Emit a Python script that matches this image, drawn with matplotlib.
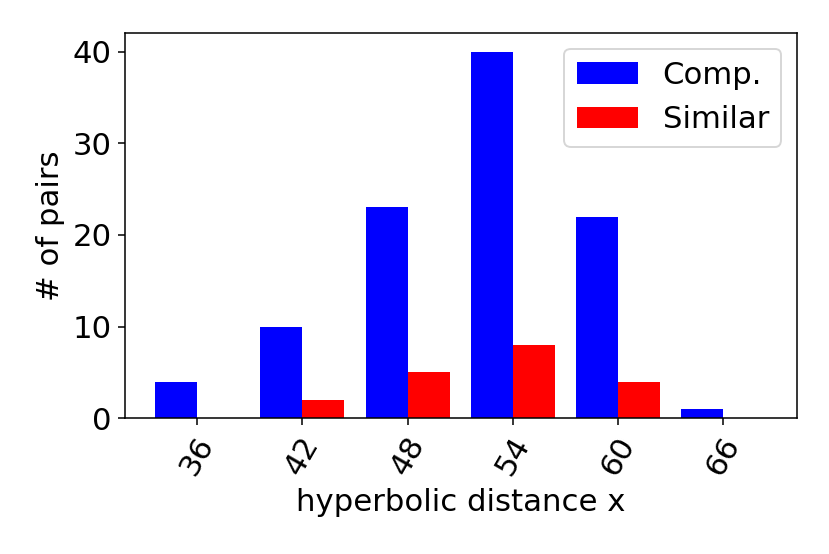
import numpy as np
import matplotlib
matplotlib.use("Agg")
import matplotlib.pyplot as plt

distances = [36, 42, 48, 54, 60, 66]
comp_counts = [4, 10, 23, 40, 22, 1]
similar_counts = [0, 2, 5, 8, 4, 0]

plt.rcParams['font.size'] = 16

fig, ax = plt.subplots(figsize=(6, 4.005), dpi=138.33)
x = np.array(distances, dtype=float)
w = 2.4
ax.bar(x - w / 2, comp_counts, width=w, color='blue', label='Comp.')
ax.bar(x + w / 2, similar_counts, width=w, color='red', label='Similar')

ax.set_xticks(distances)
ax.set_xticklabels([str(d) for d in distances], rotation=60)
ax.set_xlim(31.9, 70.2)
ax.set_ylim(0, 42)
ax.set_yticks([0, 10, 20, 30, 40])
ax.set_xlabel('hyperbolic distance x')
ax.set_ylabel('# of pairs')
ax.legend(loc='upper right')

fig.subplots_adjust(left=0.151, right=0.96, top=0.940, bottom=0.245)
fig.savefig('out.png')
